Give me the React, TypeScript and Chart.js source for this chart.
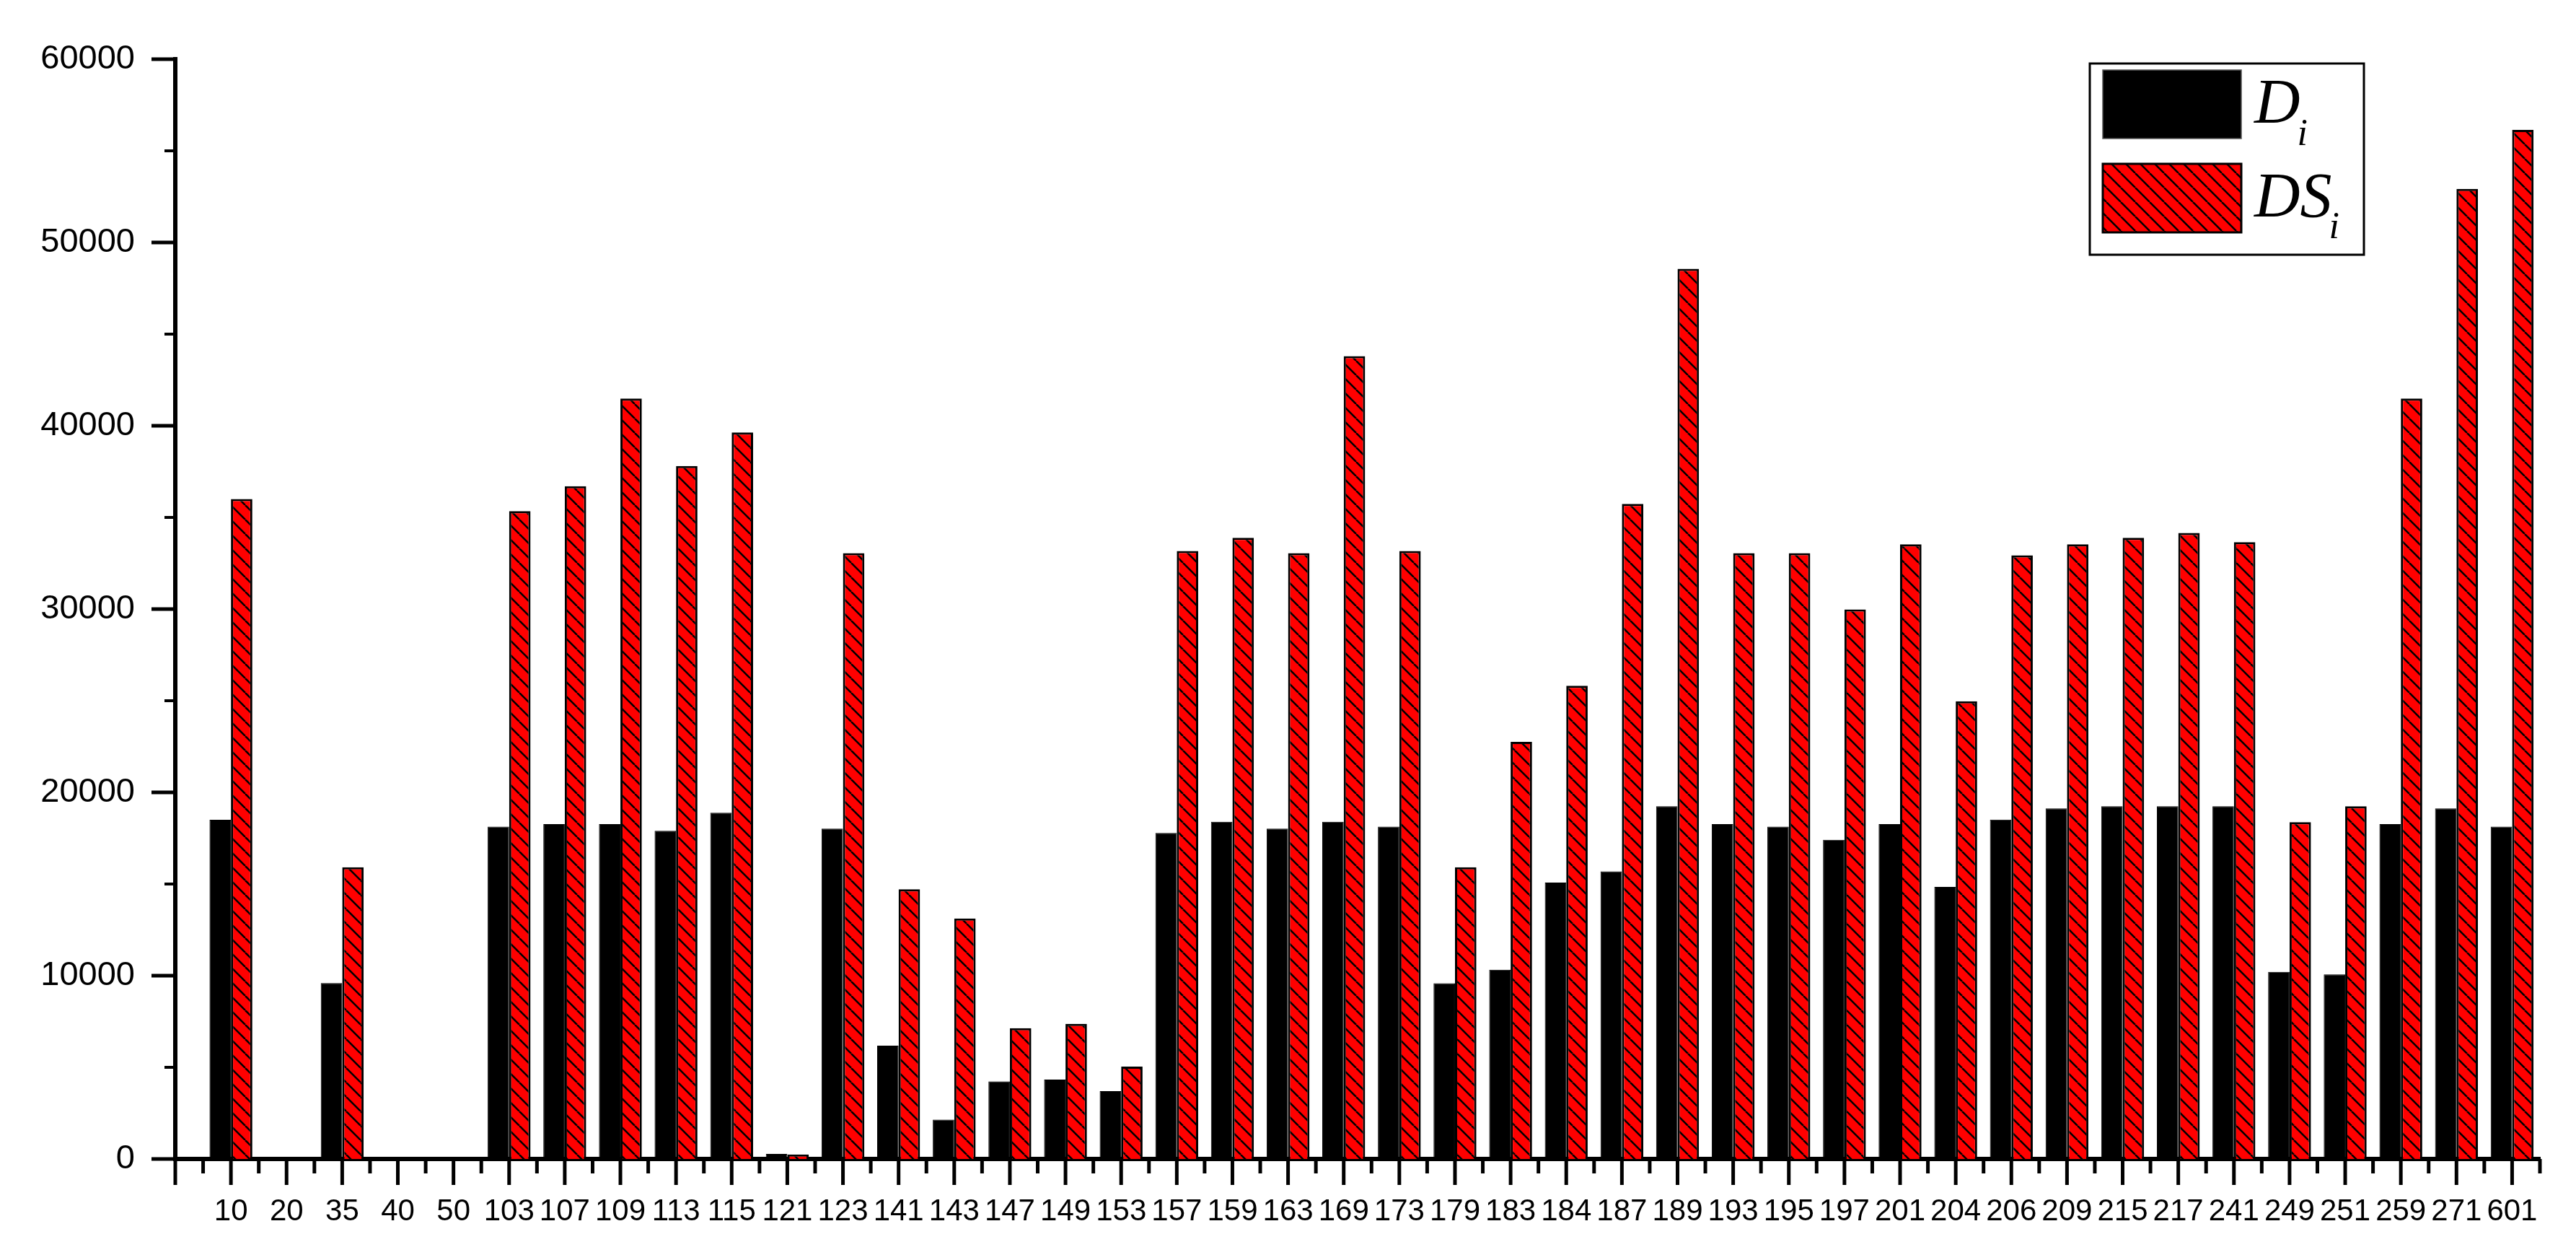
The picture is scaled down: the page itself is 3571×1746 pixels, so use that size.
import React, { useEffect, useRef } from "react";
import { Chart, registerables } from "chart.js";

Chart.register(...registerables);

// ---------- data ----------
const categories: string[] = [
  "10", "20", "35", "40", "50", "103", "107", "109", "113", "115",
  "121", "123", "141", "143", "147", "149", "153", "157", "159", "163",
  "169", "173", "179", "183", "184", "187", "189", "193", "195", "197",
  "201", "204", "206", "209", "215", "217", "241", "249", "251", "259",
  "271", "601",
];

const dValues: number[] = [
  18500, 0, 9600, 0, 0, 18130, 18270, 18270, 17900, 18890,
  280, 18020, 6180, 2150, 4230, 4330, 3700, 17790, 18400, 18020,
  18400, 18130, 9590, 10320, 15080, 15690, 19240, 18270, 18130, 17410,
  18270, 14840, 18510, 19120, 19240, 19240, 19240, 10210, 10070, 18270,
  19120, 18130,
];

const dsValues: number[] = [
  36000, 0, 15920, 0, 0, 35340, 36700, 41490, 37810, 39640,
  250, 33050, 14710, 13120, 7140, 7370, 5040, 33170, 33890, 33050,
  43800, 33170, 15920, 22760, 25820, 35740, 48560, 33050, 33050, 29980,
  33530, 24970, 32930, 33530, 33890, 34150, 33650, 18380, 19240, 41490,
  52920, 56140,
];

const seriesNames: string[] = ["D", "DS"];
const seriesSubscripts: string[] = ["i", "i"];

const yMin = 0;
const yMax = 60000;
const yMajorStep = 10000;
const yMinorStep = 5000;

// ---------- helpers ----------
function makeHatchPattern(): CanvasPattern | string {
  const tile = document.createElement("canvas");
  tile.width = 20;
  tile.height = 20;
  const c = tile.getContext("2d");
  if (!c) return "#ff0000";
  c.fillStyle = "#ff0000";
  c.fillRect(0, 0, 20, 20);
  c.strokeStyle = "#000000";
  c.lineWidth = 2.5;
  c.beginPath();
  for (const o of [-20, 0, 20]) {
    c.moveTo(o, 0);
    c.lineTo(o + 20, 20);
  }
  c.stroke();
  const p = c.createPattern(tile, "repeat");
  return p || "#ff0000";
}

const axisTicksPlugin = {
  id: "axisTicks",
  afterDraw(chart: any) {
    const { ctx, chartArea } = chart;
    const xs = chart.scales.x;
    const ys = chart.scales.y;
    ctx.save();
    ctx.strokeStyle = "#000";
    ctx.lineCap = "butt";
    // y ticks (outward, left)
    for (let v = yMin; v <= yMax; v += yMinorStep) {
      const y = ys.getPixelForValue(v);
      const major = v % yMajorStep === 0;
      ctx.lineWidth = major ? 5 : 4;
      ctx.beginPath();
      ctx.moveTo(chartArea.left - (major ? 33 : 15), y);
      ctx.lineTo(chartArea.left, y);
      ctx.stroke();
    }
    // x ticks (outward, down)
    for (let k = -1; k <= categories.length - 0.5 + 1e-9; k += 0.5) {
      const x = xs.getPixelForValue(k);
      const major = Number.isInteger(k);
      ctx.lineWidth = 5;
      ctx.beginPath();
      ctx.moveTo(x, chartArea.bottom);
      ctx.lineTo(x, chartArea.bottom + (major ? 36 : 20));
      ctx.stroke();
    }
    ctx.restore();
  },
};

const legendPlugin = {
  id: "customLegend",
  afterDraw(chart: any) {
    const ctx = chart.ctx;
    ctx.save();
    ctx.fillStyle = "#ffffff";
    ctx.fillRect(2897, 88, 380, 265);
    ctx.lineWidth = 3;
    ctx.strokeStyle = "#000";
    ctx.strokeRect(2897, 88, 380, 265);
    const rows = [
      { top: 97, base: 170, subBase: 201 },
      { top: 227, base: 300, subBase: 330 },
    ];
    chart.data.datasets.forEach((ds: any, i: number) => {
      const r = rows[i];
      ctx.fillStyle = ds.backgroundColor;
      ctx.fillRect(2915, r.top, 192, 95);
      ctx.lineWidth = i === 0 ? 1.5 : 3;
      ctx.strokeStyle = i === 0 ? "#555" : "#000";
      ctx.strokeRect(2915, r.top, 192, 95);
      ctx.fillStyle = "#000";
      ctx.textBaseline = "alphabetic";
      ctx.textAlign = "left";
      ctx.font = 'italic 88px "Liberation Serif", "Times New Roman", serif';
      const main = seriesNames[i];
      ctx.fillText(main, 3125, r.base);
      const w = ctx.measureText(main).width;
      ctx.font = 'italic 52px "Liberation Serif", "Times New Roman", serif';
      ctx.fillText(seriesSubscripts[i], 3125 + w - 4, r.subBase);
    });
    ctx.restore();
  },
};

export default function App() {
  const ref = useRef<HTMLCanvasElement>(null);

  useEffect(() => {
    document.body.style.margin = "0";
    const canvas = ref.current;
    if (!canvas) return;
    const hatch = makeHatchPattern();

    const chart = new Chart(canvas, {
      type: "bar",
      data: {
        datasets: [
          {
            label: seriesNames[0] + seriesSubscripts[0],
            data: categories.map((_, i) => ({ x: i, y: dValues[i] })),
            backgroundColor: "#000000",
            borderColor: "#000000",
            borderWidth: 1,
            categoryPercentage: 0.77,
            barPercentage: 1.0,
          },
          {
            label: seriesNames[1] + seriesSubscripts[1],
            data: categories.map((_, i) => ({ x: i, y: dsValues[i] })),
            backgroundColor: hatch as any,
            borderColor: "#000000",
            borderWidth: 3,
            categoryPercentage: 0.77,
            barPercentage: 1.0,
          },
        ],
      },
      options: {
        animation: false,
        responsive: false,
        devicePixelRatio: 1,
        layout: { padding: { top: 82, right: 50, left: 0, bottom: 0 } },
        plugins: {
          legend: { display: false },
          tooltip: { enabled: false },
        },
        scales: {
          x: {
            type: "linear",
            min: -1,
            max: categories.length - 0.5,
            offset: false,
            z: 1,
            grid: { display: false, drawTicks: false },
            border: { display: true, color: "#000", width: 6 },
            afterBuildTicks: (s: any) => {
              s.ticks = categories.map((_, i) => ({ value: i }));
            },
            afterFit: (s: any) => {
              s.height = 140;
              s.paddingLeft = 0;
              s.paddingRight = 0;
            },
            ticks: {
              autoSkip: false,
              maxRotation: 0,
              minRotation: 0,
              padding: 48,
              color: "#000",
              font: { family: '"Liberation Sans", Arial, sans-serif', size: 42 },
              callback: (v: any) => categories[v as number] ?? "",
            },
          },
          y: {
            min: yMin,
            max: yMax,
            z: 1,
            grid: { display: false, drawTicks: false },
            border: { display: true, color: "#000", width: 6 },
            afterFit: (s: any) => {
              s.width = 243;
              s.paddingTop = 0;
              s.paddingBottom = 0;
            },
            ticks: {
              stepSize: yMajorStep,
              padding: 56,
              color: "#000",
              font: { family: '"Liberation Sans", Arial, sans-serif', size: 47 },
              callback: (v: any) => String(v),
            },
          },
        },
      },
      plugins: [axisTicksPlugin, legendPlugin],
    });

    return () => chart.destroy();
  }, []);

  return (
    <div style={{ width: 3571, height: 1746, background: "#ffffff" }}>
      <canvas ref={ref} width={3571} height={1746} style={{ display: "block", width: 3571, height: 1746 }} />
    </div>
  );
}
